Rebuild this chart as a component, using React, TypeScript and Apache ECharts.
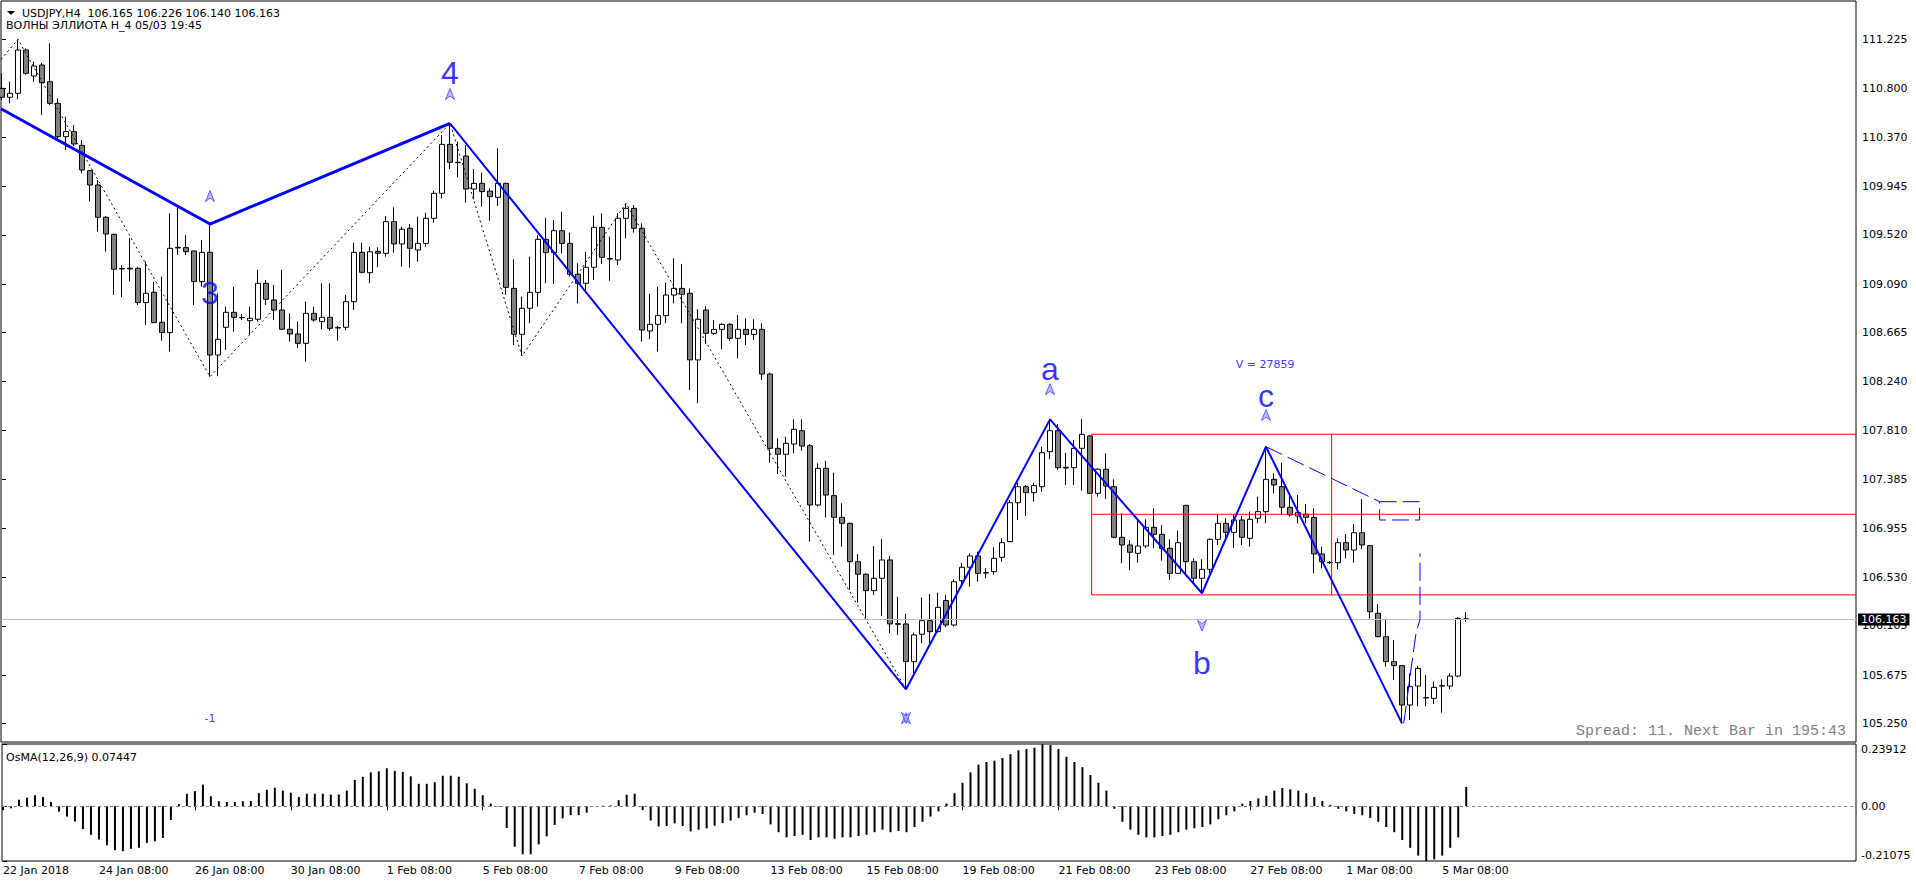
import React, { useEffect, useRef } from "react";
import * as echarts from "echarts";

// ---------- DATA ----------
const candleOpen = [
  110.799,110.721,110.756,111.134,110.907,111.003,110.857,110.668,110.377,110.421,
  110.301,110.080,109.955,109.673,109.524,109.225,109.228,109.227,108.928,109.018,
  108.756,108.666,109.410,109.408,109.379,109.111,109.367,108.470,108.712,108.843,
  108.798,108.770,108.782,109.096,108.951,108.863,108.695,108.654,108.572,108.834,
  108.762,108.799,108.709,108.712,108.936,109.367,109.189,109.375,109.358,109.635,
  109.440,109.577,109.387,109.445,109.664,109.882,110.310,110.153,110.208,109.920,
  109.969,109.902,109.847,109.969,109.052,108.651,108.878,109.017,109.480,109.364,
  109.556,109.445,109.175,109.096,109.236,109.585,109.312,109.300,109.664,109.751,
  109.577,108.680,108.738,108.814,108.994,109.052,109.009,108.427,108.863,108.659,
  108.694,108.738,108.616,108.694,108.650,108.694,108.304,107.655,107.603,107.693,
  107.809,107.678,107.160,107.480,107.242,107.052,107.000,106.665,106.555,106.412,
  106.520,106.680,106.124,106.121,105.792,106.031,106.150,106.054,106.325,106.112,
  106.499,106.616,106.715,106.569,106.578,106.703,106.840,107.180,107.320,107.268,
  107.320,107.626,107.809,107.489,107.486,107.655,107.763,107.262,107.472,107.320,
  106.878,106.811,106.738,106.802,106.965,106.904,106.782,106.563,107.157,106.665,
  106.520,106.598,106.860,107.000,106.921,107.029,106.869,107.044,107.102,107.384,
  107.320,107.140,107.064,107.079,107.052,106.732,106.659,106.656,106.831,106.767,
  106.918,106.805,106.214,106.010,105.792,105.757,105.413,105.579,105.478,105.471,
  105.579,105.579,105.666,106.165
];
const candleHigh = [
  110.930,110.857,111.227,111.149,111.032,111.023,111.192,110.712,110.552,110.479,
  110.348,110.086,109.999,109.684,109.530,109.256,109.489,109.242,109.286,109.111,
  109.155,109.708,109.780,109.518,109.380,109.475,109.614,109.009,108.893,109.067,
  108.829,108.893,109.213,109.125,109.082,109.213,108.834,108.762,108.936,108.893,
  109.096,109.096,108.724,108.994,109.452,109.452,109.416,109.410,109.684,109.760,
  109.591,109.614,109.678,109.713,109.905,110.391,110.493,110.333,110.304,110.095,
  110.063,109.926,110.275,109.975,109.306,108.980,109.329,109.518,109.669,109.649,
  109.722,109.539,109.271,109.372,109.687,109.707,109.504,109.707,109.795,109.780,
  109.620,109.003,109.067,109.102,109.315,109.265,109.052,108.869,108.898,108.776,
  108.747,108.747,108.819,108.790,108.782,108.747,108.316,107.742,107.757,107.908,
  107.908,107.693,107.524,107.547,107.442,107.175,107.006,106.732,106.563,106.802,
  106.863,106.715,106.359,106.208,106.045,106.351,106.383,106.394,106.374,106.511,
  106.656,106.738,106.753,106.607,106.790,106.869,107.204,107.355,107.335,107.355,
  107.669,107.908,107.867,107.617,107.728,107.911,107.771,107.480,107.611,107.384,
  107.087,106.854,107.035,107.035,107.131,106.985,106.860,106.936,107.157,106.694,
  106.686,106.869,107.073,107.044,107.073,107.064,107.102,107.233,107.669,107.437,
  107.530,107.247,107.247,107.169,107.131,106.796,106.671,106.869,106.907,106.994,
  107.210,106.811,106.295,106.156,105.981,105.757,105.690,105.754,105.675,105.617,
  105.637,105.690,106.179,106.226
];
const candleLow = [
  110.697,110.668,110.703,110.916,110.857,110.566,110.654,110.363,110.261,110.296,
  110.057,109.810,109.548,109.373,108.994,108.974,109.111,108.907,108.732,108.750,
  108.596,108.500,109.344,109.344,108.907,109.067,108.281,108.285,108.514,108.674,
  108.776,108.645,108.762,108.907,108.776,108.689,108.587,108.529,108.412,108.762,
  108.695,108.683,108.596,108.689,108.863,109.184,109.096,109.236,109.329,109.364,
  109.242,109.233,109.285,109.416,109.626,109.838,110.095,110.022,109.801,109.830,
  109.766,109.643,109.771,108.994,108.557,108.461,108.747,108.892,109.096,109.090,
  109.358,109.154,108.921,109.009,109.125,109.265,109.119,109.256,109.489,109.539,
  108.587,108.607,108.499,108.747,108.921,108.747,108.164,108.048,108.566,108.645,
  108.520,108.595,108.441,108.557,108.601,108.252,107.530,107.431,107.408,107.611,
  107.635,106.840,107.146,107.052,106.723,106.796,106.418,106.307,106.170,106.374,
  106.191,106.039,106.025,105.550,105.690,105.952,105.929,106.045,106.092,106.098,
  106.447,106.447,106.490,106.520,106.549,106.665,106.834,107.029,107.064,107.189,
  107.276,107.559,107.466,107.335,107.335,107.285,107.256,107.233,107.212,106.869,
  106.651,106.592,106.656,106.782,106.782,106.674,106.505,106.557,106.563,106.461,
  106.389,106.563,106.811,106.869,106.782,106.811,106.796,107.000,107.000,107.262,
  107.073,107.058,107.000,107.000,106.563,106.607,106.645,106.598,106.694,106.656,
  106.773,106.170,106.004,105.748,105.632,105.253,105.282,105.405,105.405,105.422,
  105.346,105.550,105.655,106.140
];
const candleClose = [
  110.721,110.756,111.134,110.930,110.994,110.849,110.668,110.377,110.421,110.313,
  110.086,109.955,109.673,109.527,109.219,109.222,109.222,108.928,109.009,108.753,
  108.666,109.402,109.405,109.373,109.111,109.367,108.470,108.607,108.843,108.799,
  108.796,108.791,109.096,108.957,108.863,108.695,108.654,108.572,108.834,108.776,
  108.799,108.703,108.706,108.936,109.367,109.192,109.372,109.358,109.635,109.440,
  109.568,109.402,109.445,109.664,109.882,110.310,110.153,110.150,109.920,109.969,
  109.897,109.853,109.969,109.061,108.651,108.878,109.017,109.480,109.364,109.556,
  109.445,109.175,109.096,109.236,109.585,109.323,109.309,109.664,109.751,109.577,
  108.688,108.738,108.814,108.994,109.052,109.000,108.427,108.782,108.659,108.694,
  108.738,108.616,108.694,108.650,108.694,108.304,107.655,107.603,107.699,107.821,
  107.675,107.160,107.480,107.247,107.052,107.000,106.665,106.555,106.412,106.520,
  106.680,106.121,106.118,105.792,106.025,106.150,106.054,106.266,106.112,106.490,
  106.616,106.715,106.563,106.566,106.694,106.831,107.180,107.320,107.268,107.329,
  107.617,107.809,107.486,107.483,107.655,107.777,107.262,107.472,107.326,106.878,
  106.811,106.747,106.802,106.965,106.904,106.782,106.563,106.831,106.665,106.520,
  106.598,106.860,107.000,106.921,107.029,106.878,107.035,107.102,107.384,107.335,
  107.140,107.073,107.093,107.052,106.732,106.665,106.656,106.831,106.767,106.918,
  106.811,106.228,106.010,105.792,105.757,105.413,105.573,105.733,105.475,105.567,
  105.582,105.666,106.170,106.163
];
const osmaValues = [
  -0.015,-0.008,0.025,0.033,0.042,0.035,0.016,-0.021,-0.040,-0.059,
  -0.088,-0.110,-0.128,-0.151,-0.169,-0.173,-0.164,-0.160,-0.141,-0.135,
  -0.122,-0.053,0.008,0.048,0.058,0.083,0.038,0.019,0.016,0.016,
  0.019,0.020,0.050,0.063,0.071,0.060,0.052,0.035,0.048,0.048,
  0.048,0.045,0.045,0.060,0.101,0.113,0.130,0.134,0.146,0.136,
  0.132,0.115,0.086,0.086,0.092,0.117,0.117,0.113,0.088,0.067,
  0.042,0.010,-0.002,-0.084,-0.156,-0.185,-0.185,-0.147,-0.116,-0.072,
  -0.047,-0.034,-0.034,-0.025,0.001,0.002,0.003,0.023,0.044,0.048,
  -0.015,-0.055,-0.078,-0.076,-0.066,-0.076,-0.097,-0.090,-0.085,-0.075,
  -0.065,-0.055,-0.045,-0.035,-0.025,-0.030,-0.070,-0.100,-0.120,-0.115,
  -0.110,-0.130,-0.120,-0.120,-0.125,-0.120,-0.120,-0.115,-0.110,-0.100,
  -0.090,-0.100,-0.095,-0.100,-0.080,-0.060,-0.040,-0.020,0.010,0.050,
  0.090,0.130,0.160,0.170,0.175,0.185,0.200,0.215,0.220,0.225,
  0.239,0.235,0.220,0.190,0.170,0.150,0.120,0.090,0.060,-0.010,
  -0.060,-0.090,-0.110,-0.120,-0.120,-0.115,-0.110,-0.100,-0.090,-0.085,
  -0.080,-0.070,-0.050,-0.035,-0.020,0.010,0.020,0.030,0.040,0.060,
  0.070,0.065,0.060,0.050,0.035,0.020,0.005,-0.010,-0.020,-0.030,
  -0.035,-0.045,-0.060,-0.080,-0.100,-0.130,-0.160,-0.190,-0.211,-0.205,
  -0.190,-0.160,-0.120,0.074
];

const xTickIndex = [0,12,24,36,48,60,72,84,96,108,120,132,144,156,168,180];
const xTickLabels = [
  "22 Jan 2018","24 Jan 08:00","26 Jan 08:00","30 Jan 08:00","1 Feb 08:00",
  "5 Feb 08:00","7 Feb 08:00","9 Feb 08:00","13 Feb 08:00","15 Feb 08:00",
  "19 Feb 08:00","21 Feb 08:00","23 Feb 08:00","27 Feb 08:00","1 Mar 08:00","5 Mar 08:00"
];
const priceTicks = [105.250,105.675,106.105,106.530,106.955,107.385,107.810,108.240,108.665,109.090,109.520,109.945,110.370,110.800,111.225];
const osmaTicks = [-0.21075, 0, 0.23912];
const bidPrice = 106.163;

// wave zigzags: [barIndex, price]
const zigzagThick = [[-0.125,110.621],[26,109.614],[56,110.493]];
const zigzagThin = [[56,110.493],[113,105.550],[131,107.908],[150,106.389],[158,107.669],[175,105.253]];
const zigzagDotted = [[-0.125,111.052],[2,111.227],[26,108.281],[56,110.493],[65,108.461],[78,109.795],[113,105.550]];
const projectionLine = [[158,107.669],[172.2,107.189]];
const projectionBox = [[172.2,107.189],[177.2,107.189],[177.2,107.029],[172.2,107.029],[172.2,107.189]];
const projectionCurve = [[175.2,105.253],[175.4,105.340],[176.0,105.661],[176.75,106.039],[177.25,106.162],[177.25,106.738]];
const redSegments = [
  [[136.2,107.778],[231.75,107.778]],
  [[136.2,107.079],[231.75,107.079]],
  [[136.2,106.375],[231.75,106.375]],
  [[136.2,107.778],[136.2,106.375]],
  [[166.2,107.778],[166.2,106.375]]
];
const waveText = ["4","3","a","b","c"];
const waveX = [56,26,131,150,158];
const waveY = [110.933,109.009,108.345,105.783,108.116];
const noteText = ["-1","V = 27859"];
const noteX = [26,157.9];
const noteY = [105.295,108.391];
const arrowUpX = [56,26,131,158,113];
const arrowUpY = [110.750,109.859,108.171,107.946,105.297];
const arrowDownX = [150,113];
const arrowDownY = [106.106,105.300];

const FONT = '"DejaVu Sans", Tahoma, sans-serif';
const X_MIN = -0.125;
const X_MAX = 231.75;
const ARROW = "path://M5,0 L10,10 L5,7 L0,10 Z";

export default function App() {
  const ref = useRef<HTMLDivElement>(null);
  useEffect(() => {
    if (!ref.current) return;
    const chart = echarts.init(ref.current, undefined, { renderer: "svg" });
    const candles = candleOpen.map((o, i) => [i, o, candleClose[i], candleLow[i], candleHigh[i]]);
    const lineSeries = (data: number[][], color: string, width: number, type: any, z = 5) => ({
      type: "line", xAxisIndex: 0, yAxisIndex: 0, data, showSymbol: false, symbol: "none",
      lineStyle: { color, width, type }, silent: true, z, animation: false,
    });
    const option: any = {
      animation: false,
      backgroundColor: "#ffffff",
      grid: [
        { left: 1, top: 1, width: 1855, height: 741, show: true, borderColor: "#000", borderWidth: 1, backgroundColor: "#fff" },
        { left: 1, top: 744, width: 1855, height: 117, show: true, borderColor: "#000", borderWidth: 1, backgroundColor: "#fff" },
      ],
      xAxis: [
        { type: "value", gridIndex: 0, min: X_MIN, max: X_MAX, show: false },
        {
          type: "value", gridIndex: 1, min: X_MIN, max: X_MAX,
          axisLine: { show: false }, splitLine: { show: false },
          axisTick: { show: true, customValues: xTickIndex, length: 4, lineStyle: { color: "#000" } },
          axisLabel: {
            customValues: xTickIndex, align: "left", margin: 4, color: "#000", fontFamily: FONT, fontSize: 11,
            formatter: (v: number) => xTickLabels[xTickIndex.indexOf(Math.round(v))] ?? "",
          },
        },
      ],
      yAxis: [
        {
          type: "value", gridIndex: 0, position: "right", min: 105.090, max: 111.562,
          axisLine: { show: false }, splitLine: { show: false },
          axisTick: { show: true, customValues: priceTicks, length: 4, lineStyle: { color: "#000" } },
          axisLabel: { customValues: priceTicks, margin: 6, color: "#000", fontFamily: FONT, fontSize: 11, formatter: (v: number) => v.toFixed(3) },
        },
        {
          type: "value", gridIndex: 1, position: "right", min: -0.21075, max: 0.23912,
          axisLine: { show: false }, splitLine: { show: false },
          axisTick: { show: true, customValues: osmaTicks, length: 4, lineStyle: { color: "#000" } },
          axisLabel: {
            customValues: osmaTicks, margin: 5, color: "#000", fontFamily: FONT, fontSize: 11,
            verticalAlignMaxLabel: "top", verticalAlignMinLabel: "bottom",
            formatter: (v: number) => (Math.abs(v) < 1e-9 ? "0.00" : v.toFixed(5)),
          },
        },
      ],
      series: [
        {
          type: "candlestick", xAxisIndex: 0, yAxisIndex: 0, data: candles, barWidth: 5, z: 2,
          itemStyle: { color: "#ffffff", color0: "#808080", borderColor: "#000", borderColor0: "#000", borderColorDoji: "#000", borderWidth: 1 },
          markLine: {
            silent: true, symbol: ["none", "none"], animation: false,
            lineStyle: { color: "#c0c0c0", width: 1, type: "solid" },
            label: { show: true, position: "end", distance: 2, formatter: bidPrice.toFixed(3), color: "#fff", backgroundColor: "#000", padding: [1, 3, 0, 3], fontFamily: FONT, fontSize: 11 },
            data: [{ yAxis: bidPrice }],
          },
        },
        ...redSegments.map((s) => lineSeries(s, "#ff0000", 1, "solid", 3)),
        lineSeries(zigzagDotted, "#000000", 1, [2, 3], 4),
        lineSeries(zigzagThick, "#0000ff", 3, "solid", 6),
        lineSeries(zigzagThin, "#0000ff", 2, "solid", 6),
        lineSeries(projectionLine, "#0000ff", 1, [18, 6], 6),
        lineSeries(projectionBox, "#0000ff", 1, [17, 6], 6),
        lineSeries(projectionCurve, "#0000ff", 1, [18, 6], 6),
        {
          type: "scatter", xAxisIndex: 0, yAxisIndex: 0, symbolSize: 1, z: 8, silent: true,
          itemStyle: { color: "rgba(0,0,0,0)" },
          data: waveText.map((t, i) => ({ name: t, value: [waveX[i], waveY[i]] })),
          label: { show: true, position: "inside", formatter: "{b}", color: "#0000ff", fontSize: 32, fontFamily: '"Liberation Sans", Arial, sans-serif' },
        },
        {
          type: "scatter", xAxisIndex: 0, yAxisIndex: 0, symbolSize: 1, z: 8, silent: true,
          itemStyle: { color: "rgba(0,0,0,0)" },
          data: noteText.map((t, i) => ({ name: t, value: [noteX[i], noteY[i]] })),
          label: { show: true, position: "inside", formatter: "{b}", color: "#0000ff", fontSize: 11, fontFamily: FONT },
        },
        {
          type: "scatter", xAxisIndex: 0, yAxisIndex: 0, symbol: ARROW, symbolSize: [9, 11], z: 8, silent: true,
          itemStyle: { color: "#a8a8ff", borderColor: "#2020ff", borderWidth: 0.8 },
          data: arrowUpX.map((x, i) => [x, arrowUpY[i]]),
        },
        {
          type: "scatter", xAxisIndex: 0, yAxisIndex: 0, symbol: ARROW, symbolSize: [9, 11], symbolRotate: 180, z: 8, silent: true,
          itemStyle: { color: "#a8a8ff", borderColor: "#2020ff", borderWidth: 0.8 },
          data: arrowDownX.map((x, i) => [x, arrowDownY[i]]),
        },
        {
          type: "bar", xAxisIndex: 1, yAxisIndex: 1, barWidth: 2, z: 2,
          data: osmaValues.map((v, i) => [i, v]),
          itemStyle: { color: "#000" },
          markLine: {
            silent: true, symbol: ["none", "none"], animation: false,
            lineStyle: { color: "#808080", width: 1, type: [3, 3] },
            label: { show: false },
            data: [{ yAxis: 0 }],
          },
        },
      ],
      graphic: [
        { type: "polygon", shape: { points: [[7, 11], [15, 11], [11, 15]] }, style: { fill: "#000" } },
        { type: "text", x: 22, y: 13, style: { text: "USDJPY,H4  106.165 106.226 106.140 106.163", font: `11px ${FONT}`, fill: "#000", verticalAlign: "middle" } },
        { type: "text", x: 6, y: 25, style: { text: "ВОЛНЫ ЭЛЛИОТА H_4 05/03 19:45", font: `11px ${FONT}`, fill: "#000", verticalAlign: "middle" } },
        { type: "text", x: 6, y: 757, style: { text: "OsMA(12,26,9) 0.07447", font: `11px ${FONT}`, fill: "#000", verticalAlign: "middle" } },
        { type: "text", x: 1846, y: 731, style: { text: "Spread: 11. Next Bar in 195:43", font: `15px "Liberation Mono", "DejaVu Sans Mono", monospace`, fill: "#808080", align: "right", verticalAlign: "middle" } },
      ],
    };
    chart.setOption(option);
    return () => chart.dispose();
  }, []);
  return <div ref={ref} style={{ position: "fixed", left: 0, top: 0, width: 1916, height: 884, background: "#fff" }} />;
}
